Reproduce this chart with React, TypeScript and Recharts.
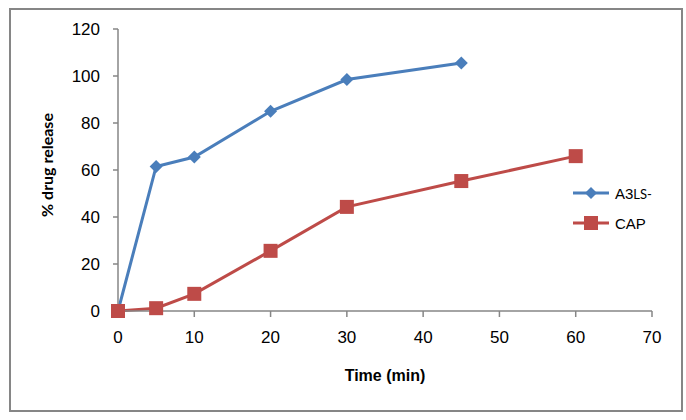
import { LineChart, Line, XAxis, YAxis } from 'recharts';

const times = [0, 5, 10, 20, 30, 45, 60];
const a3ls = [0, 61.5, 65.5, 85, 98.5, 105.5, null];
const cap = [0, 1.2, 7.3, 25.6, 44.3, 55.3, 65.9];
const xTicks = [0, 10, 20, 30, 40, 50, 60, 70];
const yTicks = [0, 20, 40, 60, 80, 100, 120];

const BLUE = '#4a7ebb';
const RED = '#be4b48';
const AXIS = '#868686';
const FONT = '"Liberation Sans", Arial, sans-serif';

const data = times.map((t, i) => ({ time: t, a3ls: a3ls[i], cap: cap[i] }));

function Diamond(props: any) {
  const { cx, cy } = props;
  if (cx == null || cy == null) return null;
  const r = 6.5;
  return (
    <path
      d={`M${cx},${cy - r} L${cx + r},${cy} L${cx},${cy + r} L${cx - r},${cy} Z`}
      fill={BLUE}
    />
  );
}

function Square(props: any) {
  const { cx, cy } = props;
  if (cx == null || cy == null) return null;
  const s = 7;
  return <rect x={cx - s} y={cy - s} width={s * 2} height={s * 2} fill={RED} />;
}

function LegendBox() {
  return (
    <div style={{ fontFamily: FONT, fontSize: 15, color: '#000' }}>
      <div style={{ display: 'flex', alignItems: 'center', height: 30 }}>
        <svg width={38} height={14}>
          <line x1={0} y1={7} x2={36} y2={7} stroke={BLUE} strokeWidth={3} />
          <path d="M18,1 L24,7 L18,13 L12,7 Z" fill={BLUE} />
        </svg>
        <span style={{ marginLeft: 4 }}>
          A3<span style={{ fontSize: 13, fontFamily: 'Lato, sans-serif' }}>LS-</span>
        </span>
      </div>
      <div style={{ display: 'flex', alignItems: 'center', height: 30 }}>
        <svg width={38} height={14}>
          <line x1={0} y1={7} x2={36} y2={7} stroke={RED} strokeWidth={3} />
          <rect x={11} y={0} width={14} height={14} fill={RED} />
        </svg>
        <span style={{ marginLeft: 4 }}>CAP</span>
      </div>
    </div>
  );
}

function YTitle() {
  return (
    <text
      x={46}
      y={165}
      transform="rotate(-90 46 165)"
      textAnchor="middle"
      dominantBaseline="central"
      fontFamily="Lato, sans-serif"
      fontWeight={700}
      fontSize={16}
      fill="#000"
    >
      % drug release
    </text>
  );
}

export default function App() {
  return (
    <div style={{ position: 'absolute', left: 0, top: 0, width: 686, height: 420, background: '#fff' }}>
      <LineChart
        width={686}
        height={420}
        data={data}
        margin={{ top: 29, right: 34, bottom: 69, left: 58 }}
      >
        <XAxis
          dataKey="time"
          type="number"
          domain={[0, 70]}
          ticks={xTicks}
          interval={0}
          height={40}
          stroke={AXIS}
          strokeWidth={1.5}
          tickSize={6}
          tickMargin={14}
          tick={{ fontSize: 17, fill: '#000', fontFamily: FONT }}
          label={{
            value: 'Time (min)',
            position: 'bottom',
            offset: 19,
            fontSize: 16,
            fontWeight: 700,
            fill: '#000',
            fontFamily: FONT,
          }}
        />
        <YAxis
          type="number"
          domain={[0, 120]}
          ticks={yTicks}
          interval={0}
          width={60}
          stroke={AXIS}
          strokeWidth={1.5}
          tickSize={5}
          tickMargin={13}
          tick={{ fontSize: 17, fill: '#000', fontFamily: FONT }}
          label={<YTitle />}
        />
        <Line
          type="linear"
          dataKey="a3ls"
          stroke={BLUE}
          strokeWidth={3}
          dot={<Diamond />}
          activeDot={false}
          isAnimationActive={false}
        />
        <Line
          type="linear"
          dataKey="cap"
          stroke={RED}
          strokeWidth={3}
          dot={<Square />}
          activeDot={false}
          isAnimationActive={false}
        />
      </LineChart>
      <div style={{ position: 'absolute', left: 573, top: 178, width: 100 }}>
        <LegendBox />
      </div>
      <div
        style={{
          position: 'absolute',
          left: 9,
          top: 8,
          width: 670,
          height: 400,
          border: `2px solid ${AXIS}`,
          pointerEvents: 'none',
        }}
      />
    </div>
  );
}
